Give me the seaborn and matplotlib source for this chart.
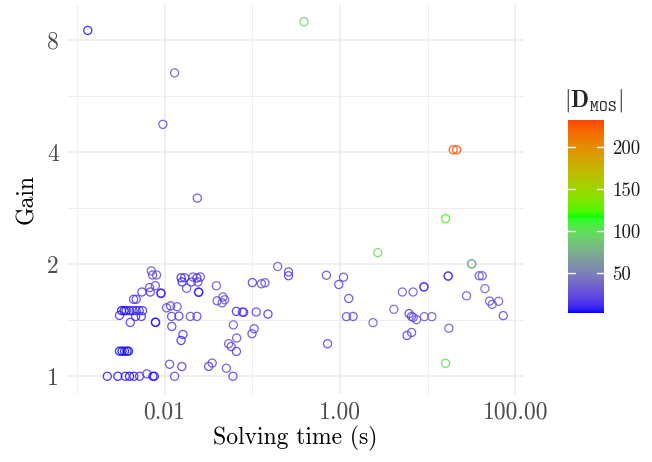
import numpy as np
import pandas as pd
import matplotlib
matplotlib.use("Agg")
import matplotlib.pyplot as plt
import seaborn as sns
from matplotlib.colors import ListedColormap, Normalize
from matplotlib.cm import ScalarMappable

# ---- data: solving time (s), gain, |D_MOS| per instance ----
time_s = [
    0.00133, 0.00222, 0.00293, 0.00356, 0.00398, 0.00446, 0.00518, 0.00628, 0.00735, 0.00763,
    0.00306, 0.00327, 0.00349, 0.00373, 0.00388,
    0.00306, 0.00406, 0.00467, 0.00542,
    0.00323, 0.00345, 0.00364, 0.00398, 0.00437, 0.00473, 0.00512, 0.00561,
    0.00443, 0.00475, 0.00551,
    0.00674, 0.00687, 0.00785,
    0.00705, 0.00730, 0.00810,
    0.00907, 0.00910, 0.00785, 0.00790,
    0.00956,
    0.01054, 0.01171, 0.01389, 0.01202, 0.01457, 0.01208, 0.01618, 0.01543,
    0.01140, 0.01572, 0.01300, 0.01300,
    0.01543, 0.01692, 0.02104, 0.02337, 0.02556, 0.01584, 0.02018, 0.02400, 0.01783, 0.02444, 0.02450,
    0.01965, 0.02337, 0.02362,
    0.0318, 0.03486, 0.03893,
    0.03975, 0.0463, 0.0484, 0.0453,
    0.0506, 0.0602, 0.0538, 0.0574, 0.0659, 0.0664, 0.06085,
    0.0659, 0.0771, 0.0798,
    0.1003, 0.127, 0.1396, 0.1108, 0.151, 0.1051, 0.0992,
    0.195, 0.259, 0.259, 0.389,
    0.701, 1.097, 0.969, 1.26, 0.722, 1.187, 1.411,
    2.382, 2.70, 4.115, 5.145, 6.83, 9.05, 9.10,
    6.15, 6.55, 6.83, 7.47, 9.17, 11.17, 5.82, 6.55,
    16.0, 16.0, 17.1, 17.2, 17.47, 19.56, 21.4,
    31.7, 31.9, 27.8, 38.7, 41.9, 45.0, 50.9, 54.5, 64.5, 72.8,
]
gain = [
    8.49, 1.00, 1.00, 1.00, 1.00, 1.00, 1.00, 1.015, 1.00, 1.00,
    1.168, 1.168, 1.168, 1.168, 1.168,
    1.457, 1.395, 1.448, 1.448,
    1.501, 1.501, 1.501, 1.501, 1.501, 1.501, 1.501, 1.501,
    1.610, 1.610, 1.684,
    1.731, 1.684, 1.752,
    1.919, 1.871, 1.871,
    1.674, 1.668, 1.398, 1.395,
    4.75,
    1.527, 1.546, 1.538, 1.448, 1.451, 1.361, 1.295, 1.248,
    1.077, 1.062, 1.00, 6.53,
    1.839, 1.839, 1.848, 1.837, 1.848, 1.792, 1.792, 1.792, 1.723, 1.684, 1.680,
    1.448, 1.448, 3.01,
    1.063, 1.085, 1.750,
    1.595, 1.633, 1.605, 1.575,
    1.051, 1.00, 1.223, 1.202, 1.166, 1.267, 1.374,
    1.494, 1.488, 1.485,
    1.785, 1.772, 1.783, 1.488, 1.469, 1.342, 1.301,
    1.972, 1.907, 1.862, 8.96,
    1.868, 1.845, 1.764, 1.618, 1.223, 1.446, 1.448,
    1.393, 2.148, 1.513, 1.684, 1.684, 1.737, 1.740,
    1.473, 1.448, 1.439, 1.419, 1.446, 1.446, 1.287, 1.311,
    2.65, 1.084, 1.857, 1.860, 1.346, 4.058, 4.058,
    2.004, 2.004, 1.645, 1.862, 1.862, 1.720, 1.592, 1.560, 1.590, 1.455,
]
d_mos = [
    4, 6, 5, 8, 4, 7, 10, 18, 6, 5,
    3, 2, 4, 3, 5,
    12, 14, 9, 11,
    4, 3, 5, 6, 8, 10, 12, 9,
    15, 18, 16,
    20, 14, 22,
    25, 20, 24,
    8, 9, 7, 6,
    24,
    22, 18, 25, 20, 16, 14, 12, 10,
    20, 15, 22, 30,
    10, 14, 22, 12, 20, 8, 15, 18, 25, 6, 9,
    22, 20, 20,
    15, 22, 28,
    22, 25, 28, 24,
    24, 18, 26, 22, 18, 24, 28,
    12, 16, 14,
    15, 26, 24, 18, 12, 22, 20,
    28, 18, 16, 96,
    22, 20, 18, 20, 18, 22, 20,
    30, 100, 32, 30, 28, 14, 16,
    18, 20, 26, 28, 30, 28, 16, 22,
    121, 97, 20, 18, 28, 226, 232,
    72, 74, 30, 26, 28, 32, 26, 30, 28, 20,
]

x_breaks = [0.01, 1.0, 100.0]
x_labels = ["0.01", "1.00", "100.00"]
y_breaks = [1, 2, 4, 8]
y_labels = ["1", "2", "4", "8"]
bar_breaks = [50, 100, 150, 200]

df = pd.DataFrame({"time": time_s, "gain": gain, "dmos": d_mos})


# ---- blue -> green -> orangered ramp interpolated in CIELAB ----
def srgb_to_lab(rgb):
    rgb = np.asarray(rgb, float)
    lin = np.where(rgb <= 0.04045, rgb / 12.92, ((rgb + 0.055) / 1.055) ** 2.4)
    m = np.array([[0.4124564, 0.3575761, 0.1804375],
                  [0.2126729, 0.7151522, 0.0721750],
                  [0.0193339, 0.1191920, 0.9503041]])
    xyz = lin @ m.T / np.array([0.95047, 1.0, 1.08883])
    d = 6 / 29
    f = np.where(xyz > d ** 3, np.cbrt(xyz), xyz / (3 * d * d) + 4 / 29)
    return np.stack([116 * f[..., 1] - 16,
                     500 * (f[..., 0] - f[..., 1]),
                     200 * (f[..., 1] - f[..., 2])], axis=-1)


def lab_to_srgb(lab):
    lab = np.asarray(lab, float)
    fy = (lab[..., 0] + 16) / 116
    fx = fy + lab[..., 1] / 500
    fz = fy - lab[..., 2] / 200
    d = 6 / 29
    f = np.stack([fx, fy, fz], axis=-1)
    xyz = np.where(f > d, f ** 3, 3 * d * d * (f - 4 / 29)) * np.array([0.95047, 1.0, 1.08883])
    mi = np.array([[3.2404542, -1.5371385, -0.4985314],
                   [-0.9692660, 1.8760108, 0.0415560],
                   [0.0556434, -0.2040259, 1.0572252]])
    lin = np.clip(xyz @ mi.T, 0, 1)
    rgb = np.where(lin <= 0.0031308, 12.92 * lin, 1.055 * lin ** (1 / 2.4) - 0.055)
    return np.clip(rgb, 0, 1)


stops = np.array([[0, 0, 1], [0, 1, 0], [1, 69 / 255, 0]])
stops_lab = srgb_to_lab(stops)
t = np.linspace(0, 1, 300)
pos = np.array([0, 0.5, 1])
ramp_lab = np.stack([np.interp(t, pos, stops_lab[:, k]) for k in range(3)], axis=-1)
cmap = ListedColormap(lab_to_srgb(ramp_lab))
norm = Normalize(vmin=min(d_mos), vmax=max(d_mos))

# ---- figure ----
sns.set_theme(style="white")
plt.rcParams["font.family"] = ["cmr10", "DejaVu Serif"]
plt.rcParams["mathtext.fontset"] = "cm"
plt.rcParams["axes.unicode_minus"] = False

W, H = 652, 462
fig = plt.figure(figsize=(W / 100, H / 100), dpi=100)
ax = fig.add_axes([67 / W, 1 - 394 / H, (524 - 67) / W, (394 - 4) / H])

sns.scatterplot(data=df, x="time", y="gain", hue="dmos", palette=cmap,
                hue_norm=norm, legend=False, ax=ax, s=34, linewidth=0.9)
pts = ax.collections[0]
cols = pts.get_facecolors().copy()
cols[:, 3] = 0.85
pts.set_edgecolors(cols)
pts.set_facecolors("none")

ax.set_xscale("log")
ax.set_yscale("log", base=2)

# 5% expansion on the log scales
lx = np.log10(time_s)
ly = np.log2(gain)
ex = 0.05 * (lx.max() - lx.min())
ey = 0.05 * (ly.max() - ly.min())
ax.set_xlim(10 ** (lx.min() - ex), 10 ** (lx.max() + ex))
ax.set_ylim(2 ** (ly.min() - ey), 2 ** (ly.max() + ey))

ax.set_xticks(x_breaks)
ax.set_xticklabels(x_labels)
ax.set_xticks([0.001, 0.1, 10.0], minor=True)
ax.set_yticks(y_breaks)
ax.set_yticklabels(y_labels)
ax.set_yticks([2 ** 0.5, 2 ** 1.5, 2 ** 2.5], minor=True)
ax.xaxis.set_minor_formatter(plt.NullFormatter())
ax.yaxis.set_minor_formatter(plt.NullFormatter())

ax.grid(which="major", color="#ebebeb", linewidth=1.1)
ax.grid(which="minor", color="#ebebeb", linewidth=0.6)
ax.set_axisbelow(True)
for sp in ax.spines.values():
    sp.set_visible(False)
ax.tick_params(which="both", length=0, labelsize=17, labelcolor="#4d4d4d")
ax.tick_params(axis="x", pad=5)
ax.tick_params(axis="y", pad=6)
ax.set_xlabel("Solving time (s)", fontsize=17, color="black", labelpad=2)
ax.set_ylabel("Gain", fontsize=17, color="black", labelpad=6)

# ---- colour bar ----
cax = fig.add_axes([568 / W, 1 - 313 / H, 36 / W, 193 / H])
cb = fig.colorbar(ScalarMappable(norm=norm, cmap=cmap), cax=cax)
cb.outline.set_visible(False)
cb.set_ticks(bar_breaks)
cax.tick_params(length=0, labelsize=13.5, pad=6, labelcolor="#1a1a1a")
for v in bar_breaks:
    cax.axhline(v, 0, 0.2, color="white", linewidth=1)
    cax.axhline(v, 0.8, 1, color="white", linewidth=1)
fig.text(564 / W, 1 - 101 / H, r"$|\mathbf{D}_{\mathtt{MOS}}|$", fontsize=17,
         ha="left", va="center")

fig.savefig("out.png", dpi=100)
